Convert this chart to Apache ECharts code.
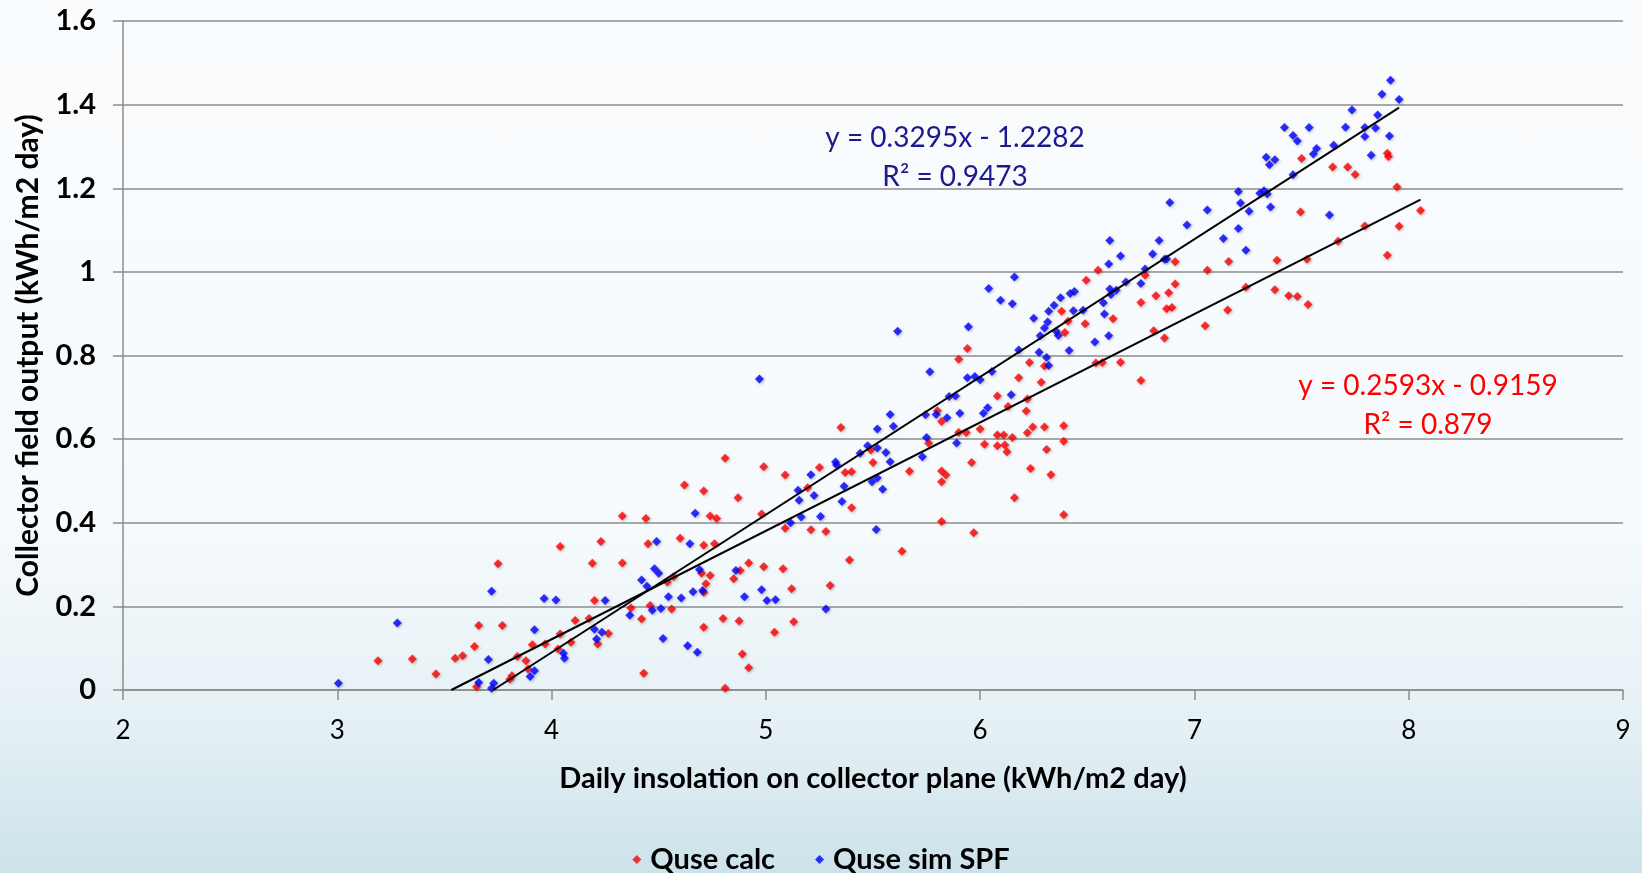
<!DOCTYPE html>
<html>
<head>
<meta charset="utf-8">
<script src="https://cdn.jsdelivr.net/npm/echarts@6/dist/echarts.min.js"></script>
<style>
html,body{margin:0;padding:0;width:1642px;height:873px;overflow:hidden;
background:linear-gradient(to bottom,#fafcfe 0%,#f6fafc 60%,#e6f1f5 82%,#cce2ea 100%);}
#chart{width:1642px;height:873px;}
</style>
</head>
<body>
<div id="chart"></div>
<script>
// ---- data ----
const xTicks = [2, 3, 4, 5, 6, 7, 8, 9];
const yTicks = [0, 0.2, 0.4, 0.6, 0.8, 1, 1.2, 1.4, 1.6];
const seriesNames = ['Quse calc', 'Quse sim SPF'];

const quseCalc = [
[4.04,0.343],[3.75,0.302],[3.66,0.154],[3.77,0.154],[3.19,0.070],[3.35,0.074],[3.64,0.104],[3.55,0.076],[3.585,0.082],[3.46,0.038],
[3.84,0.080],[3.88,0.070],[3.89,0.050],[3.91,0.108],[3.97,0.110],[4.04,0.134],[4.03,0.098],[3.805,0.026],[3.815,0.034],[3.65,0.008],
[4.81,0.554],[4.99,0.534],[4.62,0.490],[4.71,0.476],[4.87,0.460],[4.33,0.416],[4.44,0.410],[4.74,0.416],[4.77,0.410],[4.98,0.421],
[4.23,0.355],[4.45,0.350],[4.60,0.363],[4.71,0.346],[4.76,0.350],[4.19,0.303],[4.33,0.304],[4.92,0.304],[4.99,0.295],[4.70,0.279],
[4.74,0.274],[4.57,0.271],[4.54,0.258],[4.72,0.254],[4.71,0.234],[4.85,0.266],[4.88,0.286],[4.20,0.214],[4.37,0.196],[4.46,0.202],
[4.56,0.194],[4.42,0.170],[4.80,0.171],[4.875,0.165],[4.11,0.166],[4.175,0.171],[4.265,0.135],[4.215,0.110],[4.09,0.114],[4.71,0.150],
[5.04,0.138],[4.89,0.086],[4.92,0.053],[4.43,0.040],[4.81,0.004],
[5.94,0.817],[5.90,0.791],[5.80,0.668],[5.82,0.642],[5.90,0.616],[5.935,0.616],[6.00,0.624],[6.02,0.588],[5.76,0.590],[5.35,0.628],
[5.49,0.574],[5.50,0.544],[5.09,0.514],[5.25,0.532],[5.37,0.520],[5.40,0.522],[5.67,0.523],[5.82,0.524],[5.84,0.514],[5.82,0.498],
[5.96,0.544],[5.195,0.484],[5.40,0.436],[5.09,0.387],[5.21,0.383],[5.28,0.379],[5.82,0.403],[5.97,0.376],[5.635,0.332],[5.39,0.311],
[5.08,0.290],[5.12,0.242],[5.30,0.250],[5.13,0.163],
[6.55,1.004],[6.495,0.980],[6.77,0.992],[6.91,1.024],[7.06,1.004],[6.91,0.971],[6.82,0.943],[6.88,0.950],[6.75,0.927],[6.87,0.912],
[6.895,0.915],[6.38,0.906],[6.41,0.882],[6.49,0.876],[6.62,0.888],[6.395,0.855],[7.05,0.871],[6.81,0.859],[6.86,0.842],[6.23,0.783],
[6.30,0.775],[6.54,0.782],[6.57,0.783],[6.655,0.784],[6.75,0.740],[6.18,0.747],[6.285,0.736],[6.08,0.703],[6.22,0.696],[6.13,0.678],
[6.215,0.667],[6.08,0.610],[6.11,0.610],[6.15,0.604],[6.22,0.615],[6.245,0.629],[6.30,0.629],[6.39,0.632],[6.39,0.595],[6.08,0.584],
[6.115,0.586],[6.125,0.570],[6.31,0.575],[6.235,0.530],[6.33,0.515],[6.16,0.460],[6.39,0.419],
[7.50,1.271],[7.645,1.251],[7.715,1.251],[7.75,1.233],[7.90,1.284],[7.905,1.276],[7.945,1.203],[7.495,1.143],[8.055,1.147],[7.955,1.109],
[7.795,1.110],[7.67,1.073],[7.90,1.040],[7.525,1.030],[7.385,1.028],[7.16,1.025],[7.24,0.963],[7.375,0.957],[7.44,0.943],[7.48,0.941],
[7.53,0.922],[7.155,0.909]
];

const quseSimSPF = [
[3.72,0.236],[3.965,0.219],[4.02,0.215],[3.28,0.160],[3.005,0.016],[3.92,0.144],[3.705,0.073],[3.66,0.018],[3.73,0.016],[3.72,0.004],
[3.92,0.046],[3.90,0.032],[4.055,0.088],[4.06,0.076],
[4.67,0.423],[4.49,0.355],[4.645,0.350],[4.25,0.214],[4.48,0.290],[4.50,0.279],[4.42,0.263],[4.445,0.248],[4.69,0.288],[4.86,0.286],
[4.545,0.223],[4.605,0.220],[4.66,0.235],[4.705,0.238],[4.90,0.223],[4.98,0.240],[5.005,0.214],[5.045,0.216],[4.47,0.191],[4.51,0.195],
[4.365,0.179],[4.20,0.145],[4.235,0.138],[4.21,0.122],[4.52,0.123],[4.635,0.106],[4.68,0.090],
[5.615,0.858],[5.945,0.869],[5.765,0.761],[5.94,0.747],[5.975,0.750],[6.00,0.742],[5.855,0.702],[5.885,0.703],[5.58,0.659],[5.595,0.631],
[5.52,0.624],[5.745,0.658],[5.795,0.659],[5.845,0.651],[5.905,0.662],[6.015,0.662],[6.035,0.675],[5.75,0.604],[5.89,0.591],[5.475,0.584],
[5.52,0.579],[5.44,0.566],[5.56,0.568],[5.58,0.546],[5.73,0.558],[5.325,0.545],[5.33,0.538],[5.21,0.515],[5.15,0.478],[5.155,0.454],
[5.225,0.465],[5.365,0.487],[5.355,0.451],[5.52,0.507],[5.495,0.498],[5.545,0.480],[5.165,0.414],[5.115,0.400],[5.255,0.415],[5.515,0.384],
[4.97,0.744],[5.28,0.194],
[6.885,1.166],[7.06,1.148],[6.965,1.112],[6.605,1.075],[6.835,1.075],[6.655,1.038],[6.805,1.043],[6.86,1.030],[6.87,1.031],[6.60,1.019],
[6.77,1.007],[6.16,0.988],[6.04,0.960],[6.095,0.932],[6.15,0.924],[6.68,0.976],[6.75,0.972],[6.605,0.959],[6.61,0.946],[6.635,0.956],
[6.375,0.938],[6.42,0.948],[6.44,0.953],[6.345,0.920],[6.32,0.906],[6.435,0.907],[6.48,0.908],[6.575,0.926],[6.58,0.899],[6.25,0.889],
[6.315,0.880],[6.30,0.866],[6.28,0.847],[6.355,0.858],[6.365,0.848],[6.60,0.847],[6.535,0.832],[6.415,0.812],[6.18,0.813],[6.275,0.808],
[6.31,0.795],[6.32,0.776],[6.055,0.762],[6.145,0.706],
[7.915,1.458],[7.875,1.425],[7.955,1.412],[7.735,1.387],[7.855,1.375],[7.42,1.345],[7.535,1.345],[7.705,1.346],[7.795,1.345],[7.845,1.344],
[7.46,1.326],[7.48,1.313],[7.795,1.324],[7.91,1.325],[7.57,1.295],[7.555,1.282],[7.65,1.303],[7.825,1.279],[7.335,1.274],[7.375,1.268],
[7.35,1.256],[7.46,1.232],[7.205,1.192],[7.215,1.165],[7.305,1.188],[7.325,1.194],[7.34,1.186],[7.355,1.155],[7.255,1.145],[7.205,1.104],
[7.135,1.080],[7.24,1.052],[7.63,1.136]
];

// trendline equations as printed on the chart
const calcFit = {slope: 0.2593, intercept: -0.9159};
const simFit  = {slope: 0.3295, intercept: -1.2282};
const calcEqText = ['y = 0.2593x - 0.9159', 'R² = 0.879'];
const simEqText  = ['y = 0.3295x - 1.2282', 'R² = 0.9473'];

// trendline drawn from where it crosses y = 0 to the series' largest x
function trend(fit, pts) {
  const xmax = Math.max(...pts.map(p => p[0]));
  const x0 = -fit.intercept / fit.slope;
  return [[x0, 0], [xmax, fit.slope * xmax + fit.intercept]];
}

const FONT = 'Lato, "Open Sans", sans-serif';
const chart = echarts.init(document.getElementById('chart'), null, {renderer: 'canvas'});
const shadow = {shadowBlur: 3, shadowColor: 'rgba(0,0,0,0.35)', shadowOffsetX: 1, shadowOffsetY: 1};

chart.setOption({
  backgroundColor: 'transparent',
  animation: false,
  grid: {left: 123, right: 19, top: 21, bottom: 183, containLabel: false},
  xAxis: {
    type: 'value', min: xTicks[0], max: xTicks[xTicks.length - 1], interval: 1,
    axisLine: {show: true, onZero: false, lineStyle: {color: '#8c8c8c', width: 1.5}},
    axisTick: {show: true, length: 10, lineStyle: {color: '#8c8c8c', width: 1.5}},
    splitLine: {show: false},
    axisLabel: {color: '#000', fontSize: 26, fontFamily: FONT, margin: 28},
    name: 'Daily insolation on collector plane (kWh/m2 day)',
    nameLocation: 'middle', nameGap: 74,
    nameTextStyle: {color: '#000', fontSize: 29, fontWeight: 'bold', fontFamily: FONT}
  },
  yAxis: {
    type: 'value', min: yTicks[0], max: yTicks[yTicks.length - 1], interval: 0.2,
    axisLine: {show: true, lineStyle: {color: '#8c8c8c', width: 1.5}},
    axisTick: {show: true, length: 10, lineStyle: {color: '#8c8c8c', width: 1.5}},
    splitLine: {show: true, lineStyle: {color: '#8c8c8c', width: 1.5}},
    axisLabel: {color: '#000', fontSize: 29, fontWeight: 'bold', fontFamily: FONT, margin: 27},
    name: 'Collector field output (kWh/m2 day)',
    nameLocation: 'middle', nameGap: 80,
    nameTextStyle: {color: '#000', fontSize: 30, fontWeight: 'bold', fontFamily: FONT}
  },
  legend: {
    data: seriesNames, left: 'center', top: 840,
    itemWidth: 9, itemHeight: 9, itemGap: 40,
    textStyle: {color: '#000', fontSize: 29, fontWeight: 'bold', fontFamily: FONT, padding: [0, 0, 0, 4]}
  },
  series: [
    {name: seriesNames[0], type: 'scatter', data: quseCalc, symbol: 'diamond', symbolSize: 9,
     itemStyle: Object.assign({color: '#ff0000'}, shadow), z: 3},
    {name: seriesNames[1], type: 'scatter', data: quseSimSPF, symbol: 'diamond', symbolSize: 9,
     itemStyle: Object.assign({color: '#0000ff'}, shadow), z: 3},
    {name: 'calc trend', type: 'line', data: trend(calcFit, quseCalc), symbol: 'none',
     lineStyle: {color: '#000', width: 2}, z: 4, silent: true},
    {name: 'sim trend', type: 'line', data: trend(simFit, quseSimSPF), symbol: 'none',
     lineStyle: {color: '#000', width: 2}, z: 4, silent: true}
  ],
  graphic: [
    {type: 'text', left: 955 - 140, top: 118, style: {text: simEqText.join('\n'), fill: '#1a1a8c',
      font: '28px ' + FONT, textAlign: 'center', lineHeight: 39, x: 140, width: 280}},
    {type: 'text', left: 1428 - 140, top: 366, style: {text: calcEqText.join('\n'), fill: '#ff0000',
      font: '28px ' + FONT, textAlign: 'center', lineHeight: 39, x: 140, width: 280}}
  ]
});
</script>
</body>
</html>
